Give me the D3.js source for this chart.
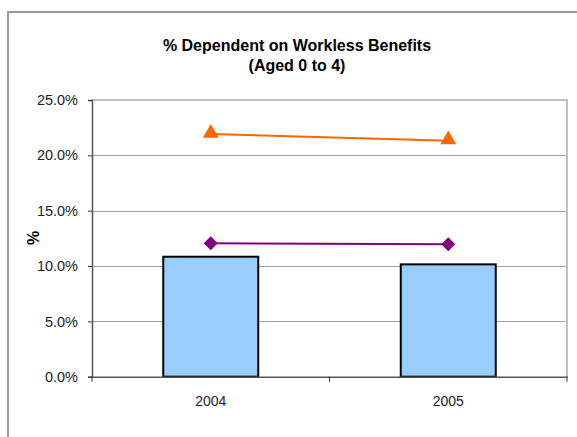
<!DOCTYPE html>
<html>
<head>
<meta charset="utf-8">
<script src="https://cdn.jsdelivr.net/npm/d3@7"></script>
<style>
html,body{margin:0;padding:0;background:#fff;}
svg{display:block;font-family:Arial,"Liberation Sans",sans-serif;}
</style>
</head>
<body>
<svg id="chart" width="577" height="437"></svg>
<script>
const categories = ["2004", "2005"];
const barValues = [10.84, 10.15];
const triangleValues = [21.92, 21.32];
const diamondValues = [12.05, 11.96];
const yTicks = [0, 5, 10, 15, 20, 25];
const titleLines = ["% Dependent on Workless Benefits", "(Aged 0 to 4)"];
const yAxisTitle = "%";

const svg = d3.select("#chart");
const m = {left: 92, right: 567, top: 100, bottom: 376.7};

// outer chart border (extends past the frame)
svg.append("rect").attr("x", 8).attr("y", 12).attr("width", 600).attr("height", 460)
  .attr("fill", "#fff").attr("stroke", "#999").attr("stroke-width", 2);

const x = d3.scaleBand().domain(categories).range([m.left, m.right]).paddingInner(0).paddingOuter(0);
const y = d3.scaleLinear().domain([0, 25]).range([m.bottom, m.top]);

// gridlines
svg.append("g").selectAll("line").data(yTicks.filter(t => t > 0 && t < 25)).join("line")
  .attr("x1", m.left).attr("x2", m.right)
  .attr("y1", d => Math.round(y(d)) + 0.5).attr("y2", d => Math.round(y(d)) + 0.5)
  .attr("stroke", "#a0a0a0").attr("stroke-width", 1);

// plot border top/right (light gray)
svg.append("path")
  .attr("d", `M${m.left},${m.top}H${m.right}V${m.bottom}`)
  .attr("fill", "none").attr("stroke", "#c0c0c0").attr("stroke-width", 2);

// bars
const bw = x.bandwidth() / 2.5;
svg.append("g").selectAll("rect").data(categories).join("rect")
  .attr("x", d => x(d) + x.bandwidth() / 2 - bw / 2)
  .attr("width", bw)
  .attr("y", (d, i) => y(barValues[i]))
  .attr("height", (d, i) => y(0) - y(barValues[i]))
  .attr("fill", "#99CCFF").attr("stroke", "#000").attr("stroke-width", 2);

// y axis
const yAxis = d3.axisLeft(y).tickValues(yTicks).tickFormat(d => d.toFixed(1) + "%").tickSize(4).tickPadding(10);
const gy = svg.append("g").attr("transform", `translate(${m.left},0)`).call(yAxis);
gy.select(".domain").attr("stroke", "#555").attr("stroke-width", 1.5);
gy.selectAll(".tick line").attr("stroke", "#333");
gy.selectAll("text").attr("font-size", 14.5).attr("fill", "#222");

// x axis
const xAxis = d3.axisBottom(x).tickSize(0).tickPadding(19.5);
const gx = svg.append("g").attr("transform", `translate(0,${m.bottom})`).call(xAxis);
gx.select(".domain").attr("stroke", "#555").attr("stroke-width", 1.5);
gx.selectAll("text").attr("font-size", 14).attr("fill", "#222");
// category boundary ticks
const bounds = [m.left, ...categories.slice(1).map(c => x(c)), m.right];
gx.selectAll(".btick").data(bounds).join("line").attr("class", "btick")
  .attr("x1", d => d).attr("x2", d => d).attr("y1", 0).attr("y2", 5)
  .attr("stroke", "#333").attr("stroke-width", 1);

const cx = d => x(d) + x.bandwidth() / 2;

// triangle line
svg.append("path").datum(categories)
  .attr("d", d3.line().x(d => cx(d)).y((d, i) => y(triangleValues[i])))
  .attr("fill", "none").attr("stroke", "#FF6600").attr("stroke-width", 2);
svg.append("g").selectAll("path").data(categories).join("path")
  .attr("d", d3.symbol(d3.symbolTriangle, 110)())
  .attr("transform", (d, i) => `translate(${cx(d)},${y(triangleValues[i]) - 1})`)
  .attr("fill", "#FF6600");

// diamond line
svg.append("path").datum(categories)
  .attr("d", d3.line().x(d => cx(d)).y((d, i) => y(diamondValues[i])))
  .attr("fill", "none").attr("stroke", "#800080").attr("stroke-width", 2);
svg.append("g").selectAll("path").data(categories).join("path")
  .attr("d", "M0,-7L7,0L0,7L-7,0Z")
  .attr("transform", (d, i) => `translate(${cx(d)},${y(diamondValues[i])})`)
  .attr("fill", "#800080");

// title
svg.append("g").selectAll("text").data(titleLines).join("text")
  .attr("x", 297).attr("y", (d, i) => 51 + i * 20)
  .attr("text-anchor", "middle").attr("font-size", 16).attr("font-weight", "bold").attr("fill", "#000")
  .text(d => d);

// y axis title
svg.append("text").attr("transform", "translate(39,238) rotate(-90)")
  .attr("text-anchor", "middle").attr("font-size", 16).attr("font-weight", "bold").text(yAxisTitle);
</script>
</body>
</html>
